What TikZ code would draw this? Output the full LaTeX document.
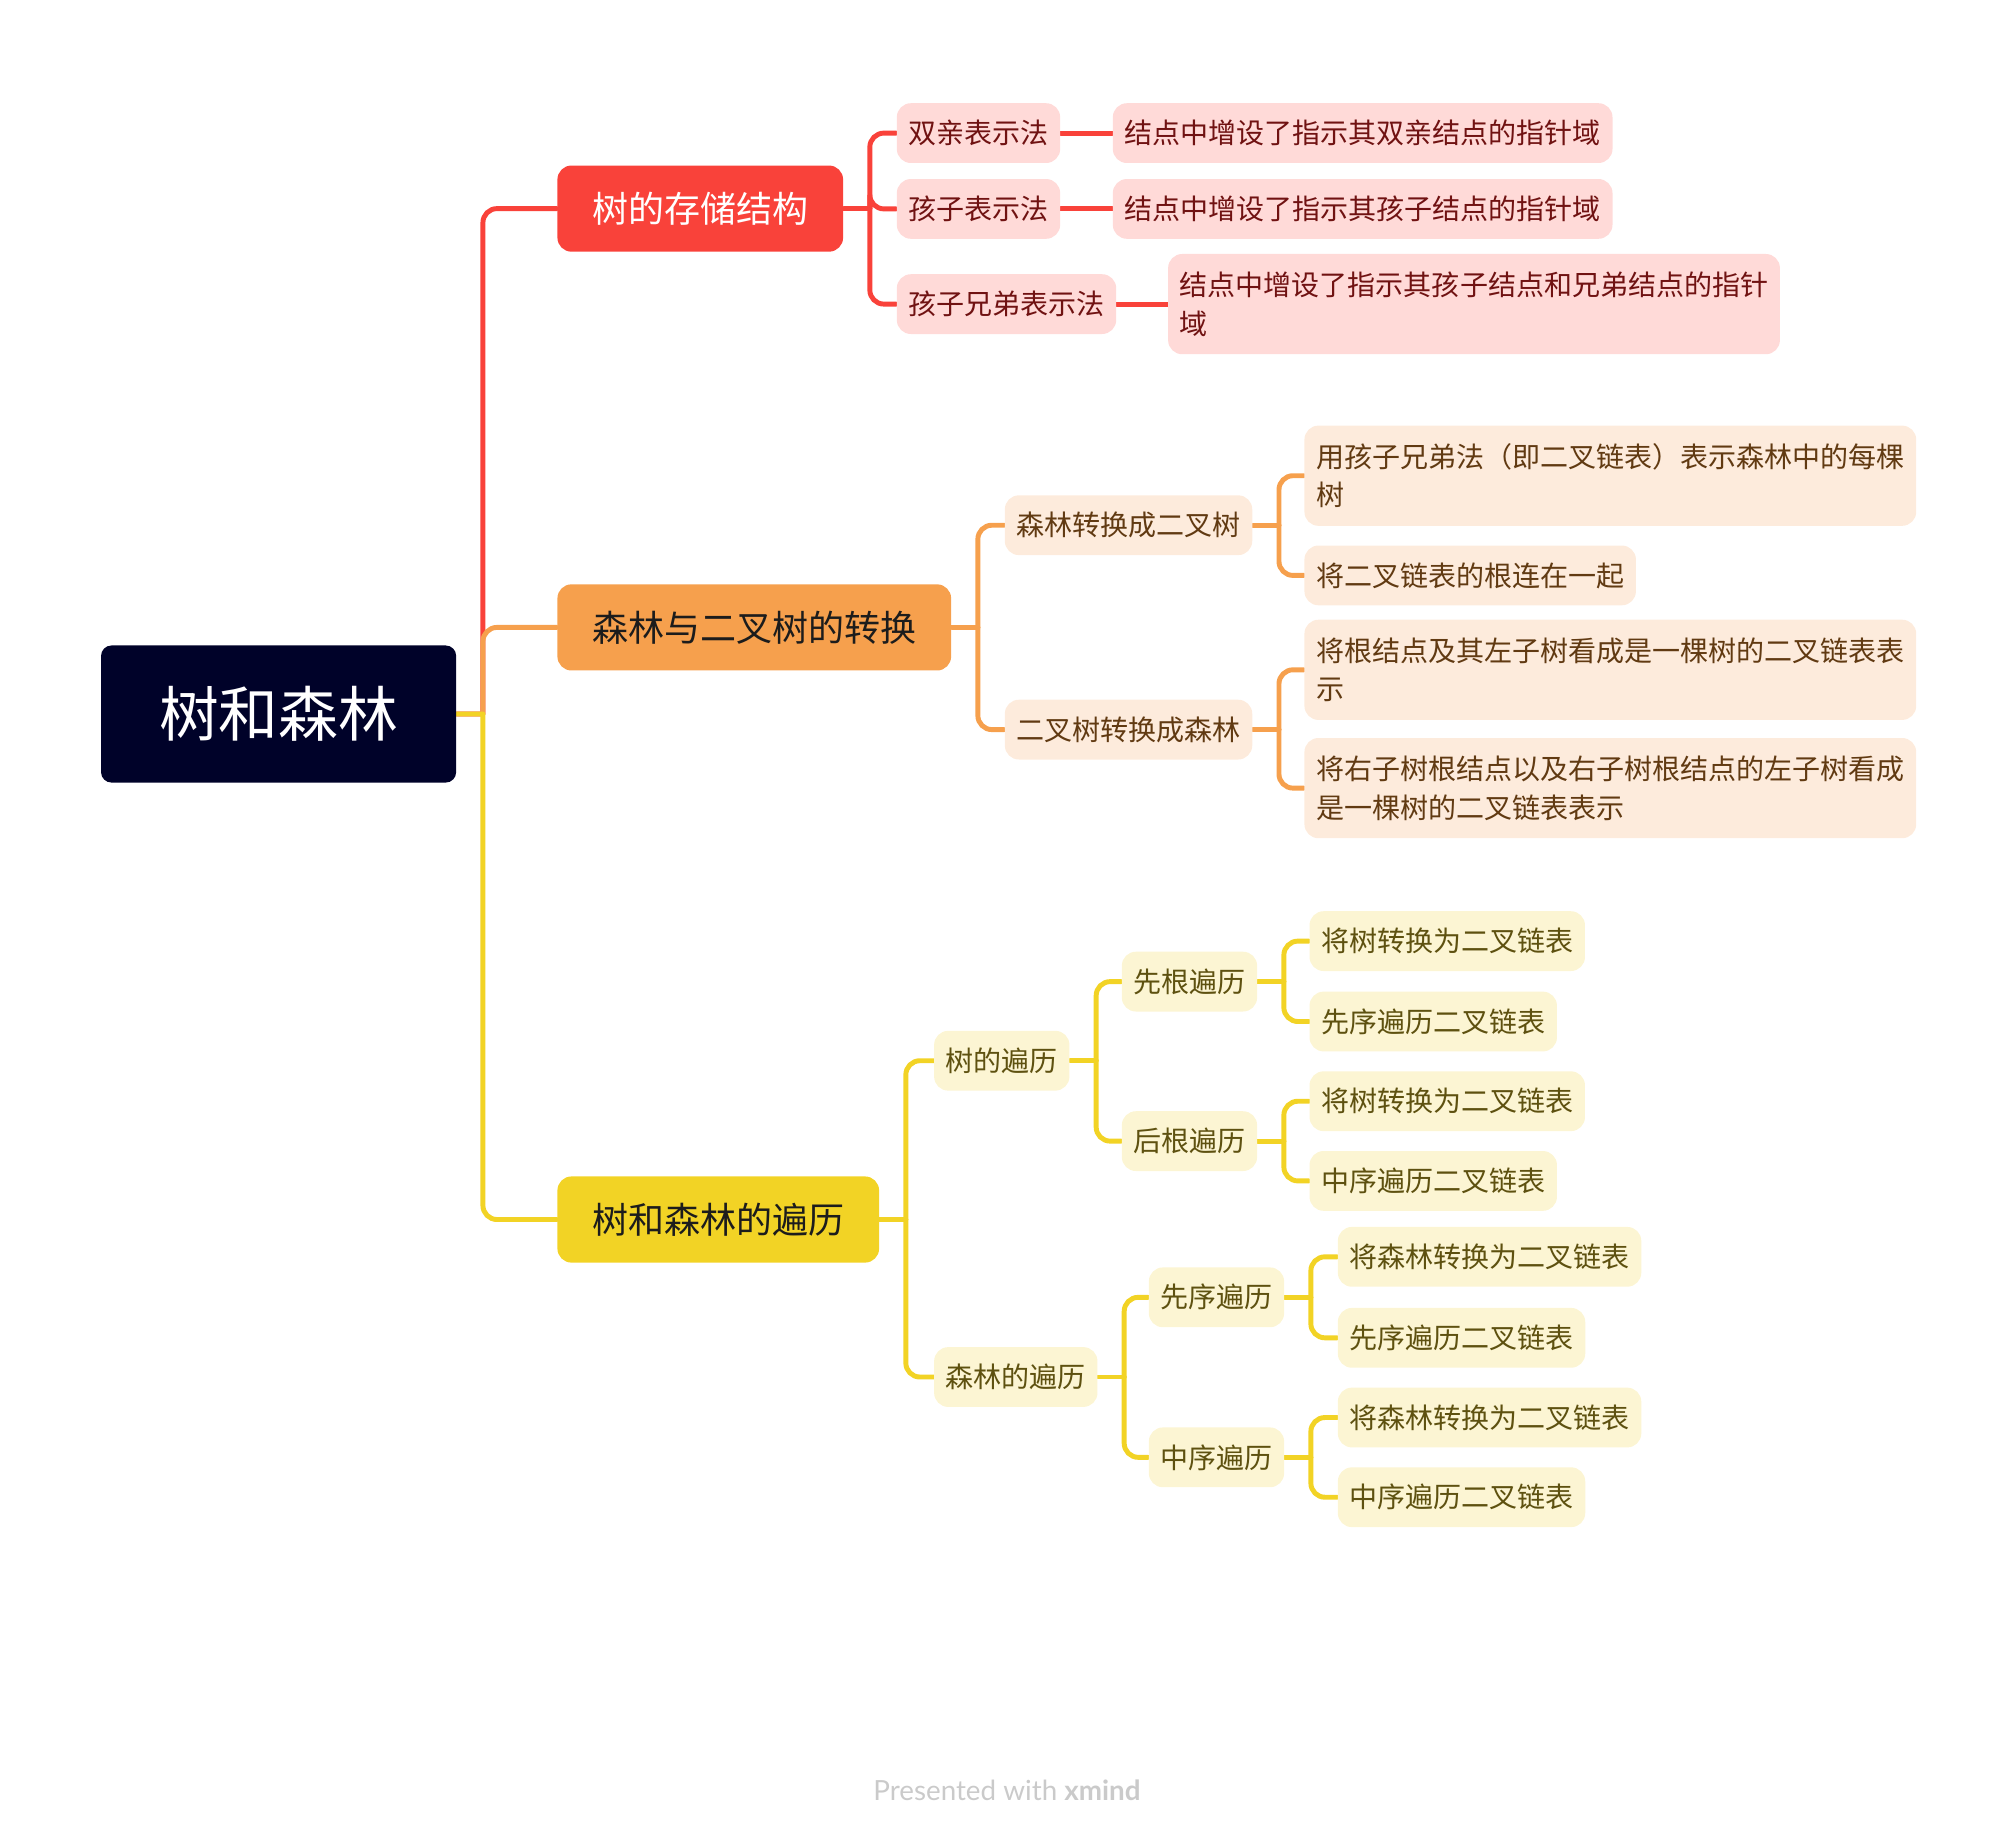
\documentclass[tikz,border=0pt]{standalone}
\usepackage{fontspec}
\setmainfont{Noto Sans CJK SC}
\newfontfamily\creditfont{Lato}
\usetikzlibrary{backgrounds}

\definecolor{rootblue}{HTML}{000229}
\definecolor{storered}{HTML}{F9423A}
\definecolor{storepink}{HTML}{FFDAD8}
\definecolor{storetext}{HTML}{701212}
\definecolor{convorange}{HTML}{F6A04D}
\definecolor{convpeach}{HTML}{FDEBDC}
\definecolor{convtext}{HTML}{613A12}
\definecolor{travyellow}{HTML}{F2D325}
\definecolor{travcream}{HTML}{FCF5D3}
\definecolor{travtext}{HTML}{5E5110}
\definecolor{topictext}{HTML}{1C1C1C}
\definecolor{creditgray}{HTML}{CACACA}

\begin{document}
\begin{tikzpicture}[x=0.01cm,y=-0.01cm,
    rootbox/.style={fill=rootblue,text=white,rounded corners=3pt,minimum height=39pt,
        inner xsep=16.5pt,anchor=west,font=\fontsize{17}{20}\selectfont},
    topicbox/.style={rounded corners=4pt,minimum height=24.5pt,inner xsep=9.9pt,
        anchor=west,font=\fontsize{10.24}{12}\selectfont},
    leafbox/.style={rounded corners=4pt,minimum height=17pt,inner xsep=3.3pt,inner ysep=0pt,
        anchor=west,align=left,font=\fontsize{7.97}{11}\selectfont},
    tallbox/.style={minimum height=28.5pt},
    redleaf/.style={leafbox,fill=storepink,text=storetext},
    orangeleaf/.style={leafbox,fill=convpeach,text=convtext},
    yellowleaf/.style={leafbox,fill=travcream,text=travtext},
    link/.style={line width=1.4pt,rounded corners=4pt,line cap=round}]

\useasboundingbox (0,0) rectangle (2016,1842);

% ============================================
% ROOT AND MAIN TOPICS
% ============================================
        \node[rootbox] (forest) at (100.3,714) {树和森林};
        \node[topicbox,fill=storered,text=white] (store) at (556.7,208.6) {树的存储结构};
        \node[topicbox,fill=convorange,text=topictext] (conv) at (556.7,627.4) {森林与二叉树的转换};
        \node[topicbox,fill=travyellow,text=topictext] (trav) at (556.7,1219.5) {树和森林的遍历};

% ============================================
% STORAGE (red)
% ============================================
        \node[redleaf] (parent) at (896.1,133.1) {双亲表示法};
        \node[redleaf] (child) at (896.1,208.9) {孩子表示法};
        \node[redleaf] (sibling) at (896.1,304.1) {孩子兄弟表示法};
        \node[redleaf] (parentptr) at (1112.1,133.1) {结点中增设了指示其双亲结点的指针域};
        \node[redleaf] (childptr) at (1112.1,208.9) {结点中增设了指示其孩子结点的指针域};
        \node[redleaf,tallbox] (siblingptr) at (1167.4,304.1) {结点中增设了指示其孩子结点和兄弟结点的指针\\域};

% ============================================
% CONVERSION (orange)
% ============================================
        \node[orangeleaf] (tobin) at (1004.1,525.2) {森林转换成二叉树};
        \node[orangeleaf] (toforest) at (1004.1,729.6) {二叉树转换成森林};
        \node[orangeleaf,tallbox] (eachtree) at (1303.7,475.7) {用孩子兄弟法（即二叉链表）表示森林中的每棵\\树};
        \node[orangeleaf] (joinroots) at (1303.7,575.4) {将二叉链表的根连在一起};
        \node[orangeleaf,tallbox] (leftpart) at (1303.7,669.8) {将根结点及其左子树看成是一棵树的二叉链表表\\示};
        \node[orangeleaf,tallbox] (rightpart) at (1303.7,788.1) {将右子树根结点以及右子树根结点的左子树看成\\是一棵树的二叉链表表示};

% ============================================
% TRAVERSAL (yellow)
% ============================================
        \node[yellowleaf] (treetrav) at (933.4,1060.7) {树的遍历};
        \node[yellowleaf] (foresttrav) at (933.4,1377.0) {森林的遍历};
        % tree traversal
        \node[yellowleaf] (preroot) at (1121.1,981.6) {先根遍历};
        \node[yellowleaf] (postroot) at (1121.1,1141.1) {后根遍历};
        \node[yellowleaf] (preconv) at (1308.8,941.1) {将树转换为二叉链表};
        \node[yellowleaf] (prewalk) at (1308.8,1021.5) {先序遍历二叉链表};
        \node[yellowleaf] (postconv) at (1308.8,1101.2) {将树转换为二叉链表};
        \node[yellowleaf] (postwalk) at (1308.8,1180.9) {中序遍历二叉链表};
        % forest traversal
        \node[yellowleaf] (preorder) at (1148.1,1297.3) {先序遍历};
        \node[yellowleaf] (inorder) at (1148.1,1457.3) {中序遍历};
        \node[yellowleaf] (fpreconv) at (1337.1,1256.8) {将森林转换为二叉链表};
        \node[yellowleaf] (fprewalk) at (1337.1,1337.8) {先序遍历二叉链表};
        \node[yellowleaf] (finconv) at (1337.1,1417.5) {将森林转换为二叉链表};
        \node[yellowleaf] (finwalk) at (1337.1,1497.2) {中序遍历二叉链表};

        % Footer
        \node[text=creditgray,font=\creditfont\fontsize{7.9}{9}\selectfont] (credit) at (1007,1790) {Presented with \textbf{xmind}};

% ============================================
% CONNECTORS
% ============================================
\begin{scope}[on background layer]
        \coordinate (forestT) at ([xshift=0.26cm]forest.east);
        \draw[link,storered] (forest.east) -- (forestT) (forestT) |- (store.west);
        \draw[link,convorange] (forest.east) -- (forestT) (forestT) |- (conv.west);
        \draw[link,travyellow] (forest.east) -- (forestT) (forestT) |- (trav.west);

        % red
        \coordinate (storeT) at ([xshift=0.26cm]store.east);
        \draw[link,storered] (store.east) -- (storeT);
        \draw[link,storered] (storeT) |- (parent.west);
        \draw[link,storered] (storeT) |- (child.west);
        \draw[link,storered] (storeT) |- (sibling.west);
        \draw[link,storered] (parent.east) -- (parentptr.west);
        \draw[link,storered] (child.east) -- (childptr.west);
        \draw[link,storered] (sibling.east) -- (siblingptr.west);

        % orange
        \coordinate (convT) at ([xshift=0.26cm]conv.east);
        \draw[link,convorange] (conv.east) -- (convT);
        \draw[link,convorange] (convT) |- (tobin.west);
        \draw[link,convorange] (convT) |- (toforest.west);
        \coordinate (tobinT) at ([xshift=0.26cm]tobin.east);
        \draw[link,convorange] (tobin.east) -- (tobinT);
        \draw[link,convorange] (tobinT) |- (eachtree.west);
        \draw[link,convorange] (tobinT) |- (joinroots.west);
        \coordinate (toforestT) at ([xshift=0.26cm]toforest.east);
        \draw[link,convorange] (toforest.east) -- (toforestT);
        \draw[link,convorange] (toforestT) |- (leftpart.west);
        \draw[link,convorange] (toforestT) |- (rightpart.west);

        % yellow
        \coordinate (travT) at ([xshift=0.26cm]trav.east);
        \draw[link,travyellow] (trav.east) -- (travT);
        \draw[link,travyellow] (travT) |- (treetrav.west);
        \draw[link,travyellow] (travT) |- (foresttrav.west);
        \coordinate (treetravT) at ([xshift=0.26cm]treetrav.east);
        \draw[link,travyellow] (treetrav.east) -- (treetravT);
        \draw[link,travyellow] (treetravT) |- (preroot.west);
        \draw[link,travyellow] (treetravT) |- (postroot.west);
        \coordinate (prerootT) at ([xshift=0.26cm]preroot.east);
        \draw[link,travyellow] (preroot.east) -- (prerootT);
        \draw[link,travyellow] (prerootT) |- (preconv.west);
        \draw[link,travyellow] (prerootT) |- (prewalk.west);
        \coordinate (postrootT) at ([xshift=0.26cm]postroot.east);
        \draw[link,travyellow] (postroot.east) -- (postrootT);
        \draw[link,travyellow] (postrootT) |- (postconv.west);
        \draw[link,travyellow] (postrootT) |- (postwalk.west);
        \coordinate (foresttravT) at ([xshift=0.26cm]foresttrav.east);
        \draw[link,travyellow] (foresttrav.east) -- (foresttravT);
        \draw[link,travyellow] (foresttravT) |- (preorder.west);
        \draw[link,travyellow] (foresttravT) |- (inorder.west);
        \coordinate (preorderT) at ([xshift=0.26cm]preorder.east);
        \draw[link,travyellow] (preorder.east) -- (preorderT);
        \draw[link,travyellow] (preorderT) |- (fpreconv.west);
        \draw[link,travyellow] (preorderT) |- (fprewalk.west);
        \coordinate (inorderT) at ([xshift=0.26cm]inorder.east);
        \draw[link,travyellow] (inorder.east) -- (inorderT);
        \draw[link,travyellow] (inorderT) |- (finconv.west);
        \draw[link,travyellow] (inorderT) |- (finwalk.west);
\end{scope}
\end{tikzpicture}
\end{document}
